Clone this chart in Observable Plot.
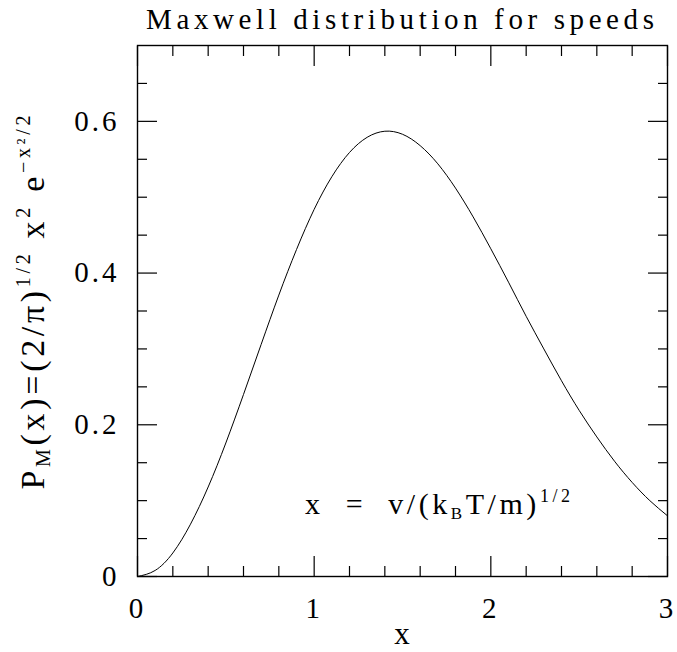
<!DOCTYPE html>
<html>
<head>
<meta charset="utf-8">
<script src="https://cdn.jsdelivr.net/npm/d3@7"></script>
<script src="https://cdn.jsdelivr.net/npm/@observablehq/plot@0.6"></script>
<style>
  html, body { margin: 0; padding: 0; background: #fff; }
  svg text { font-family: "Liberation Serif", "DejaVu Serif", serif; }
  g[aria-label="x-axis tick label"] text, g[aria-label="y-axis tick label"] text { letter-spacing: 3px; }
</style>
</head>
<body>
<div id="chart"></div>
<script>
// Speed values x
const speeds = [0, 0.1, 0.2, 0.3, 0.4, 0.5, 0.6, 0.7, 0.8, 0.9, 1.0, 1.1, 1.2, 1.3, 1.4, 1.5,
  1.6, 1.7, 1.8, 1.9, 2.0, 2.1, 2.2, 2.3, 2.4, 2.5, 2.6, 2.7, 2.8, 2.9, 3.0];
// Probability density P_M(x)
const density = [0, 0.008, 0.031, 0.069, 0.118, 0.176, 0.240, 0.306, 0.371, 0.431, 0.484, 0.527,
  0.559, 0.579, 0.587, 0.583, 0.568, 0.544, 0.512, 0.474, 0.432, 0.388, 0.343, 0.300, 0.258,
  0.219, 0.184, 0.152, 0.124, 0.100, 0.080];

const xMajorTicks = [0, 1, 2, 3];
const xMinorTicks = [0.2, 0.4, 0.6, 0.8, 1.2, 1.4, 1.6, 1.8, 2.2, 2.4, 2.6, 2.8];
const xTickLabels = ["0", "1", "2", "3"];
const yMajorTicks = [0, 0.2, 0.4, 0.6];
const yMinorTicks = [0.05, 0.1, 0.15, 0.25, 0.3, 0.35, 0.45, 0.5, 0.55, 0.65];
const yTickLabels = ["0", "0.2", "0.4", "0.6"];

const titleText = "Maxwell distribution for speeds";
const xLabelText = "x";

const table = speeds.map((x, i) => ({x, y: density[i]}));

const W = 677, H = 652;
const fontSize = 29;

const plot = Plot.plot({
  width: W,
  height: H,
  marginLeft: 137,
  marginRight: 10,
  marginTop: 45,
  marginBottom: 76,
  style: {fontSize: fontSize + "px", fontFamily: "Liberation Serif, serif", background: "#fff", color: "#000"},
  x: {domain: [0, 3]},
  y: {domain: [0, 0.7]},
  marks: [
    // ticks (inward) on all four sides
    Plot.axisX({anchor: "bottom", ticks: xMajorTicks, tickSize: -20, fill: "none", label: null, strokeWidth: 1.2}),
    Plot.axisX({anchor: "bottom", ticks: xMinorTicks, tickSize: -10, fill: "none", label: null, strokeWidth: 1.2}),
    Plot.axisX({anchor: "top", ticks: xMajorTicks, tickSize: -20, fill: "none", label: null, strokeWidth: 1.2}),
    Plot.axisX({anchor: "top", ticks: xMinorTicks, tickSize: -10, fill: "none", label: null, strokeWidth: 1.2}),
    Plot.axisY({anchor: "left", ticks: yMajorTicks, tickSize: -20, fill: "none", label: null, strokeWidth: 1.2}),
    Plot.axisY({anchor: "left", ticks: yMinorTicks, tickSize: -10, fill: "none", label: null, strokeWidth: 1.2}),
    Plot.axisY({anchor: "right", ticks: yMajorTicks, tickSize: -20, fill: "none", label: null, strokeWidth: 1.2}),
    Plot.axisY({anchor: "right", ticks: yMinorTicks, tickSize: -10, fill: "none", label: null, strokeWidth: 1.2}),
    // tick labels
    Plot.axisX({anchor: "bottom", ticks: xMajorTicks, tickSize: 0, tickPadding: 21, label: null,
      tickFormat: (d) => xTickLabels[xMajorTicks.indexOf(d)], fontSize: fontSize}),
    Plot.axisY({anchor: "left", ticks: yMajorTicks, tickSize: 0, tickPadding: 18, label: null,
      tickFormat: (d) => yTickLabels[yMajorTicks.indexOf(d)], fontSize: fontSize}),
    Plot.frame({stroke: "black", strokeWidth: 1.4}),
    Plot.line(table, {x: "x", y: "y", curve: "natural", stroke: "black", strokeWidth: 1})
  ]
});

document.getElementById("chart").appendChild(plot);

const svg = d3.select(plot);
const sx = plot.scale("x"), sy = plot.scale("y");
const cx = (sx.apply(0) + sx.apply(3)) / 2;

// title
svg.append("text")
  .attr("x", cx - 2).attr("y", 29)
  .attr("text-anchor", "middle")
  .attr("font-size", 29)
  .attr("textLength", 508).attr("lengthAdjust", "spacing")
  .attr("fill", "#000")
  .text(titleText);

// x label
svg.append("text")
  .attr("x", cx).attr("y", 644)
  .attr("text-anchor", "middle")
  .attr("font-size", 31)
  .attr("fill", "#000")
  .text(xLabelText);

// y label with sub/superscripts
const yl = svg.append("text")
  .attr("transform", `translate(44,${(sy.apply(0) + sy.apply(0.7)) / 2 - 8}) rotate(-90)`)
  .attr("text-anchor", "middle")
  .attr("font-size", 34)
  .attr("fill", "#000")
  .attr("textLength", 374).attr("lengthAdjust", "spacing");
yl.append("tspan").text("P");
yl.append("tspan").attr("font-size", 20).attr("dy", 6).text("M");
yl.append("tspan").attr("dy", -6).text("(x)=(2/π)");
yl.append("tspan").attr("font-size", 20).attr("dy", -14).text("1/2");
yl.append("tspan").attr("dy", 14).text(" x");
yl.append("tspan").attr("font-size", 20).attr("dy", -14).text("2");
yl.append("tspan").attr("dy", 14).text(" e");
yl.append("tspan").attr("font-size", 20).attr("dy", -14).text("−x²/2");

// annotation
const ann = svg.append("text")
  .attr("x", 305).attr("y", 514)
  .attr("text-anchor", "start")
  .attr("font-size", 30)
  .attr("fill", "#000")
  .attr("textLength", 265).attr("lengthAdjust", "spacing")
  .style("white-space", "pre");
ann.append("tspan").text("x  =  v/(k");
ann.append("tspan").attr("font-size", 17).attr("dy", 5).text("B");
ann.append("tspan").attr("dy", -5).text("T/m)");
ann.append("tspan").attr("font-size", 18).attr("dy", -12).text("1/2");
</script>
</body>
</html>
